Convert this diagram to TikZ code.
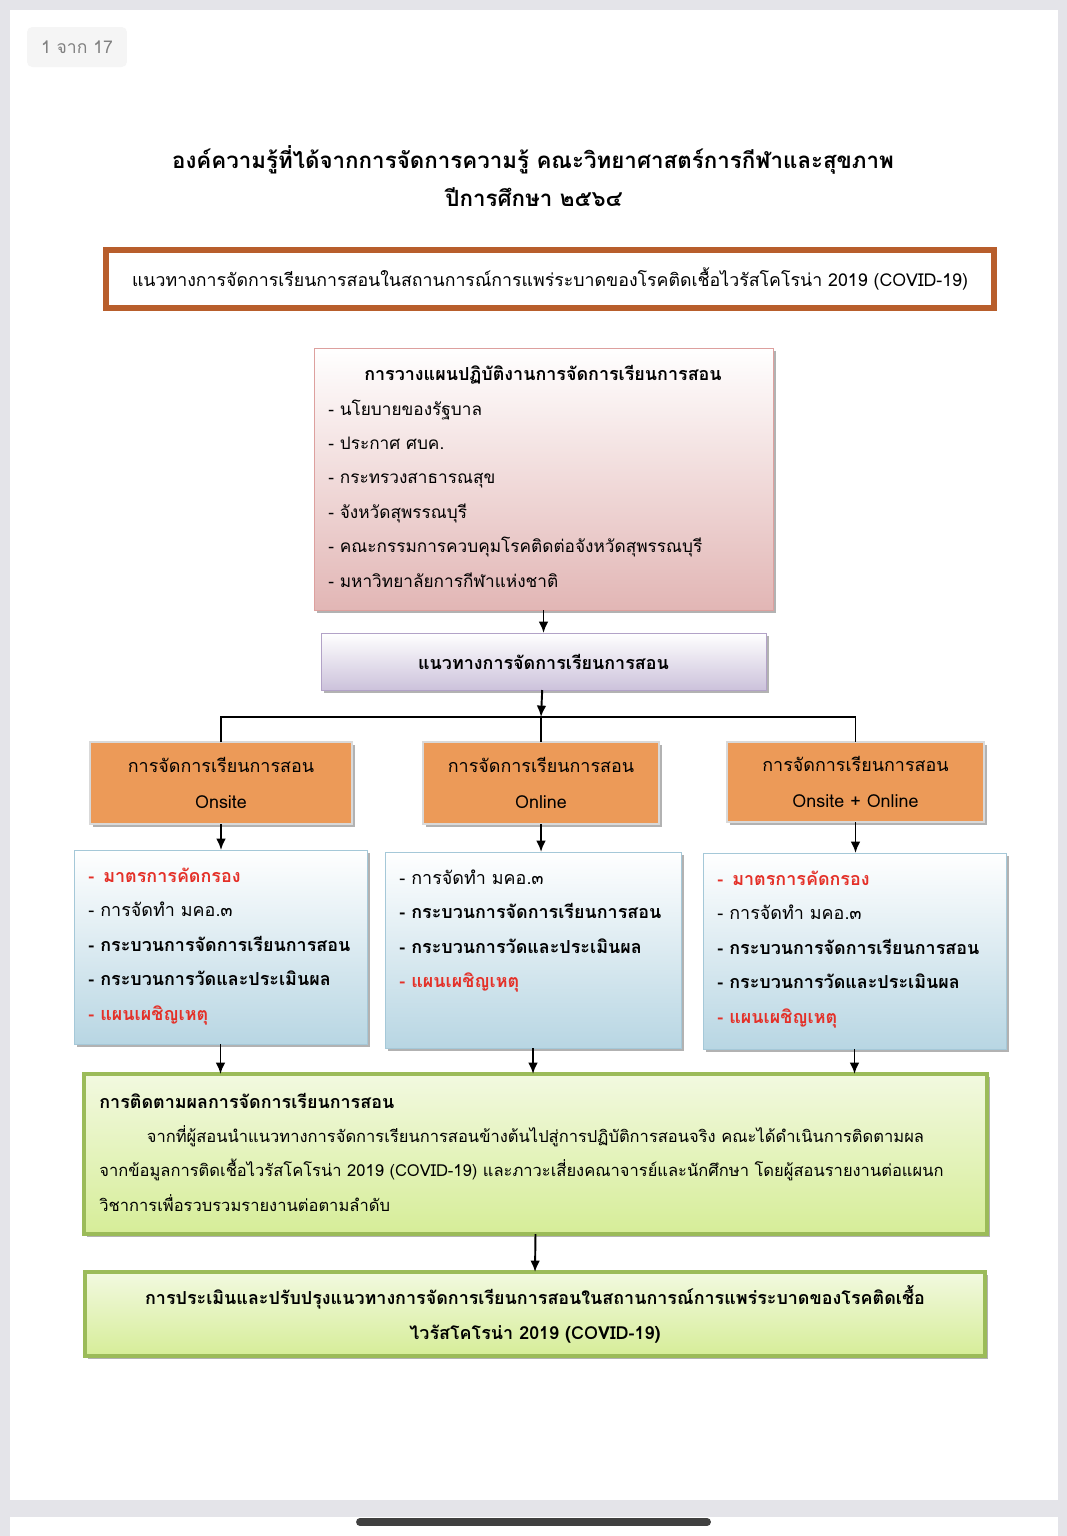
\documentclass[tikz,border=0pt]{standalone}
\usepackage{fontspec}
\setmainfont[Script=Thai]{Loma}
\usetikzlibrary{arrows.meta,calc,positioning,shadows}
\definecolor{screen}{RGB}{228,228,233}
\definecolor{brownb}{RGB}{184,94,44}
\definecolor{pinkb}{RGB}{221,160,158}
\definecolor{pinkf}{RGB}{226,182,181}
\definecolor{purpb}{RGB}{178,162,199}
\definecolor{purpf}{RGB}{204,194,219}
\definecolor{orangef}{RGB}{236,154,88}
\definecolor{blueb}{RGB}{165,200,216}
\definecolor{bluef}{RGB}{184,214,227}
\definecolor{greenb}{RGB}{155,187,89}
\definecolor{greent}{RGB}{242,249,224}
\definecolor{greenf}{RGB}{214,237,152}
\definecolor{txtred}{RGB}{228,48,40}
\newcommand\thsize{\fontsize{10.2}{19.5}\selectfont}
\tikzset{
	size/.style 2 args={minimum width=#1*0.02cm, minimum height=#2*0.02cm},
	box/.style={inner sep=0pt, outer sep=0pt, align=center, font=\thsize,
			drop shadow={shadow xshift=1.6pt, shadow yshift=-1.6pt, fill=black!30, opacity=1}},
	pinkbox/.style={box, draw=pinkb, top color=white, bottom color=pinkf},
	purpbox/.style={box, draw=purpb, top color=white, bottom color=purpf, font=\thsize\bfseries},
	orangebox/.style={box, draw=white!85!black, line width=1pt, fill=orangef,
			font=\fontsize{10.2}{20}\selectfont},
	bluebox/.style={box, draw=blueb, top color=white, bottom color=bluef},
	greenbox/.style={box, draw=greenb, line width=2.4pt, top color=greent, bottom color=greenf},
	item/.style={inner sep=0pt, anchor=base west, font=\thsize},
	link/.style={line width=1.1pt, black},
}
\begin{document}
\begin{tikzpicture}[x=0.02cm, y=-0.02cm, >={Latex[length=6.5pt,width=5.5pt]}]
% screen and page
\useasboundingbox (0,0) rectangle (1067,1536);
\fill[screen] (0,0) rectangle (1067,1536);
\fill[white] (10,10) rectangle (1058,1500);
\fill[white] (10,1517) rectangle (1058,1536);
\draw[line width=4.5pt, line cap=round, black!75] (360,1522) -- (707,1522);
\node[rounded corners=3pt, fill=black!4, minimum width=2cm, minimum height=0.8cm,
	text=black!50, font=\fontsize{10}{12}\selectfont] (page) at (77,47) {1 จาก 17};

% title
\node[anchor=base, font=\fontsize{12.7}{16}\selectfont\bfseries] (title1) at (533,168)
	{องค์ความรู้ที่ได้จากการจัดการความรู้ คณะวิทยาศาสตร์การกีฬาและสุขภาพ};
\node[anchor=base, font=\fontsize{12.7}{16}\selectfont\bfseries] (title2) at (534,206)
	{ปีการศึกษา ๒๕๖๔};

% header
\node[size={888}{58}, draw=brownb, line width=3.4pt, inner sep=0pt, font=\fontsize{10.1}{12}\selectfont] (head) at (550,279)
	{แนวทางการจัดการเรียนการสอนในสถานการณ์การแพร่ระบาดของโรคติดเชื้อไวรัสโคโรน่า 2019 (COVID-19)};
\draw[brownb, line width=1.1pt] ($(head.north west)+(5.5,5.5)$) rectangle ($(head.south east)+(-5.5,-5.5)$);

% planning
\node[pinkbox, size={459}{262}] (plan) at (543.5,479) {};
\node[anchor=base, font=\thsize\bfseries] (plantitle) at (543,380) {การวางแผนปฏิบัติงานการจัดการเรียนการสอน};
\foreach \t [count=\i from 0] in {- นโยบายของรัฐบาล, - ประกาศ ศบค., - กระทรวงสาธารณสุข,
		- จังหวัดสุพรรณบุรี, - คณะกรรมการควบคุมโรคติดต่อจังหวัดสุพรรณบุรี, - มหาวิทยาลัยการกีฬาแห่งชาติ}
	\node[item, font=\fontsize{9.8}{12}\selectfont] (plan-\i) at (328,415+34.4*\i) {\t};

% guideline
\node[purpbox, size={445}{57}] (guide) at (543.5,661.5) {แนวทางการจัดการเรียนการสอน};
\coordinate (split) at (541,717);

% modes
\node[orangebox, size={262}{82}] (onsite) at (221,783) {การจัดการเรียนการสอน\\Onsite};
\node[orangebox, size={236}{82}] (online) at (541,783) {การจัดการเรียนการสอน\\Online};
\node[orangebox, size={257}{80}] (mixed) at (855.5,782) {การจัดการเรียนการสอน\\Onsite + Online};

% details
\node[bluebox, size={293}{194}] (onsitelist) at (220.5,947) {};
\node[bluebox, size={296}{196}] (onlinelist) at (533,950) {};
\node[bluebox, size={303}{196}] (mixedlist) at (854.5,951) {};
\foreach \t [count=\i from 0] in {{\color{txtred}\bfseries -\, มาตรการคัดกรอง}, - การจัดทำ มคอ.๓,
		{\bfseries - กระบวนการจัดการเรียนการสอน}, {\bfseries - กระบวนการวัดและประเมินผล},
		{\color{txtred}\bfseries - แผนเผชิญเหตุ}}{
	\node[item] (onsite-\i) at (88,882+34.5*\i) {\t};
	\node[item] (mixed-\i) at (717,885+34.5*\i) {\t};
}
\foreach \t [count=\i from 0] in {- การจัดทำ มคอ.๓, {\bfseries - กระบวนการจัดการเรียนการสอน},
		{\bfseries - กระบวนการวัดและประเมินผล}, {\color{txtred}\bfseries - แผนเผชิญเหตุ}}
	\node[item] (online-\i) at (399,884+34.5*\i) {\t};

% follow up
\node[greenbox, size={903}{160}] (follow) at (535.5,1154) {};
\node[item, font=\thsize\bfseries] (followtitle) at (99,1108) {การติดตามผลการจัดการเรียนการสอน};
\node[item, align=left, font=\fontsize{9.4}{19.5}\selectfont] (followtext) at (99,1211)
	{\hspace*{0.95cm}จากที่ผู้สอนนำแนวทางการจัดการเรียนการสอนข้างต้นไปสู่การปฏิบัติการสอนจริง คณะได้ดำเนินการติดตามผล\\
	จากข้อมูลการติดเชื้อไวรัสโคโรน่า 2019 (COVID-19) และภาวะเสี่ยงคณาจารย์และนักศึกษา โดยผู้สอนรายงานต่อแผนก\\
	วิชาการเพื่อรวบรวมรายงานต่อตามลำดับ};

% evaluation
\node[greenbox, size={900}{84}, font=\fontsize{10.2}{20}\selectfont\bfseries] (eval) at (535,1314)
	{การประเมินและปรับปรุงแนวทางการจัดการเรียนการสอนในสถานการณ์การแพร่ระบาดของโรคติดเชื้อ\\ไวรัสโคโรน่า 2019 (COVID-19)};

% connectors
\draw[link, ->] (plan.south -| guide.north) -- (guide.north);
\draw[link, ->] (guide) -- (split);
\draw[link] (onsite.north) |- (split) -| (mixed.north);
\draw[link] (split) -- (online.north);
\draw[link, ->] (onsite.south) -- (onsite.south |- onsitelist.north);
\draw[link, ->] (online.south) -- (online.south |- onlinelist.north);
\draw[link, ->] (mixed.south) -- (mixed.south |- mixedlist.north);
\draw[link, ->] (onsitelist.south) -- (onsitelist.south |- follow.north);
\draw[link, ->] (onlinelist.south) -- (onlinelist.south |- follow.north);
\draw[link, ->] (mixedlist.south) -- (mixedlist.south |- follow.north);
\draw[link, ->] (follow.south) -- (eval.north);
\end{tikzpicture}
\end{document}
